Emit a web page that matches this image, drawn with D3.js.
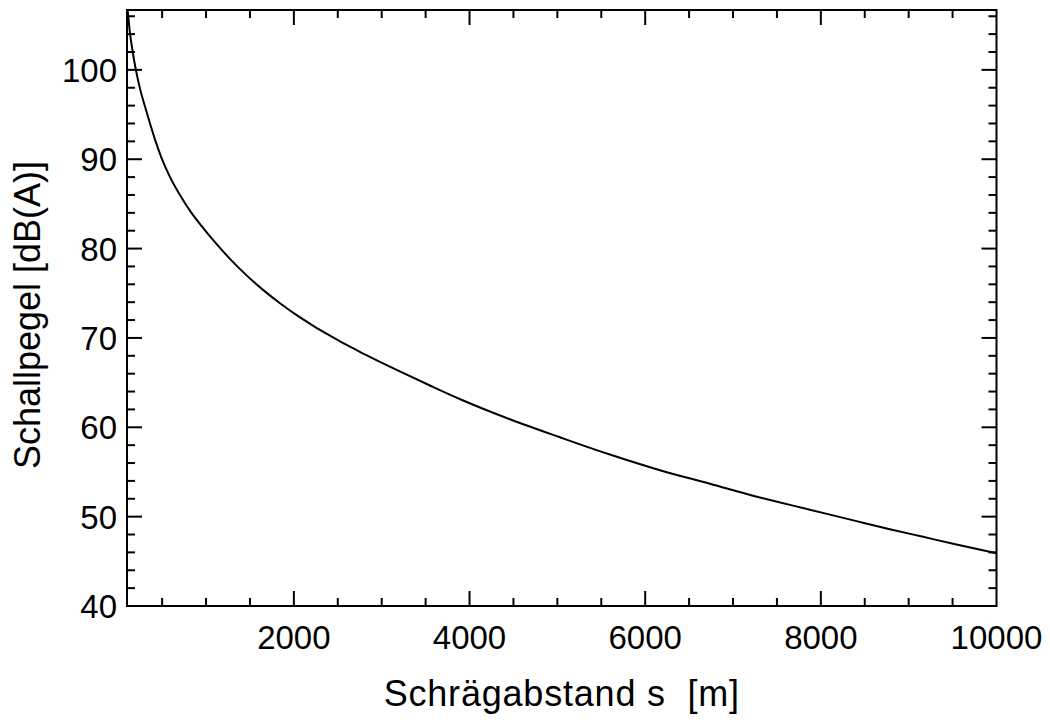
<!DOCTYPE html>
<html>
<head>
<meta charset="utf-8">
<script src="https://cdn.jsdelivr.net/npm/d3@7"></script>
<style>
  html, body { margin: 0; padding: 0; background: #fff; }
  text { font-family: "Liberation Sans", Arial, sans-serif; fill: #000; white-space: pre; }
</style>
</head>
<body>
<svg id="chart" width="1050" height="720"></svg>
<script>
// Data
const distance = [100, 115, 134, 165, 202, 248, 305, 362, 419, 495, 590, 703, 830, 968, 1121, 1272, 1462, 1652, 1842, 2032, 2221, 2411, 2601, 2790, 2980, 3170, 3549, 3928, 4460, 5030, 5598, 6167, 6737, 7306, 7875, 8406, 8785, 9164, 9544, 10000];
const level    = [107.3, 105.9, 104.1, 102.0, 99.95, 97.9, 95.9, 94.0, 92.2, 90.1, 88.0, 86.0, 84.05, 82.3, 80.5, 78.85, 77.0, 75.35, 73.88, 72.55, 71.36, 70.26, 69.21, 68.25, 67.32, 66.42, 64.68, 63.0, 60.9, 58.88, 56.95, 55.2, 53.68, 52.15, 50.78, 49.5, 48.6, 47.74, 46.88, 45.9];
const xTickLabels = [2000, 4000, 6000, 8000, 10000];
const yTickLabels = [40, 50, 60, 70, 80, 90, 100];
const xMinorTicks = d3.range(500, 10000, 500);
const yMinorTicks = d3.range(42, 107, 2);
const xTitle = "Schrägabstand s  [m]";
const yTitle = "Schallpegel [dB(A)]";

const svg = d3.select("#chart");
const pLeft = 127, pRight = 996.5, pTop = 10, pBottom = 606;

const x = d3.scaleLinear().domain([100, 10000]).range([pLeft, pRight]);
const y = d3.scaleLinear().domain([40, 106.7]).range([pBottom, pTop]);

const points = distance.map((d, i) => ({ s: d, L: level[i] }));

svg.append("clipPath").attr("id", "plotclip")
  .append("rect").attr("x", pLeft).attr("y", pTop)
  .attr("width", pRight - pLeft).attr("height", pBottom - pTop);

// Curve
svg.append("path")
  .datum(points)
  .attr("clip-path", "url(#plotclip)")
  .attr("fill", "none")
  .attr("stroke", "#000")
  .attr("stroke-width", 2)
  .attr("d", d3.line().x(d => x(d.s)).y(d => y(d.L)).curve(d3.curveMonotoneX));

const majorLen = 15, minorLen = 8;
const tickG = svg.append("g").attr("stroke", "#000").attr("stroke-width", 2);

// X ticks (bottom and top, inward)
xMinorTicks.forEach(v => {
  const major = v % 2000 === 0;
  const len = major ? majorLen : minorLen;
  tickG.append("line").attr("x1", x(v)).attr("x2", x(v)).attr("y1", pBottom).attr("y2", pBottom - len);
  tickG.append("line").attr("x1", x(v)).attr("x2", x(v)).attr("y1", pTop).attr("y2", pTop + len);
});
// Y ticks (left and right, inward)
yMinorTicks.forEach(v => {
  const major = v % 10 === 0;
  const len = major ? majorLen : minorLen;
  tickG.append("line").attr("y1", y(v)).attr("y2", y(v)).attr("x1", pLeft).attr("x2", pLeft + len);
  tickG.append("line").attr("y1", y(v)).attr("y2", y(v)).attr("x1", pRight).attr("x2", pRight - len);
});

// Frame
svg.append("rect")
  .attr("x", pLeft).attr("y", pTop)
  .attr("width", pRight - pLeft).attr("height", pBottom - pTop)
  .attr("fill", "none").attr("stroke", "#000").attr("stroke-width", 2);

// Tick labels
svg.append("g").selectAll("text").data(xTickLabels).join("text")
  .attr("x", d => x(d)).attr("y", 649)
  .attr("text-anchor", "middle")
  .attr("font-size", 33)
  .text(d => d);

svg.append("g").selectAll("text").data(yTickLabels).join("text")
  .attr("x", 117).attr("y", d => y(d) + 12)
  .attr("text-anchor", "end")
  .attr("font-size", 33)
  .text(d => d);

// Axis titles
svg.append("text")
  .attr("x", (pLeft + pRight) / 2).attr("y", 706)
  .attr("text-anchor", "middle")
  .attr("font-size", 36)
  .attr("letter-spacing", 0.8)
  .text(xTitle);

svg.append("text")
  .attr("transform", `translate(40, ${(pTop + pBottom) / 2 + 7}) rotate(-90)`)
  .attr("text-anchor", "middle")
  .attr("font-size", 36)
  .text(yTitle);
</script>
</body>
</html>
